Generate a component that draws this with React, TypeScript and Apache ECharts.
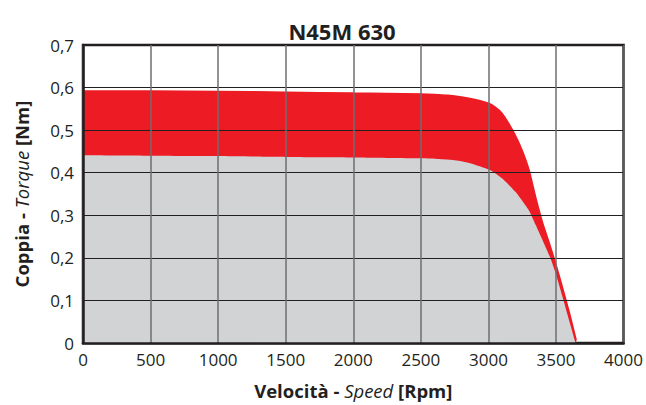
import React, { useEffect, useRef } from "react";
import * as echarts from "echarts";

const chartTitle = "N45M 630";
const xTicks = [0, 500, 1000, 1500, 2000, 2500, 3000, 3500, 4000];
const yTicks = [0, 0.1, 0.2, 0.3, 0.4, 0.5, 0.6, 0.7];

// Peak torque (red) curve: [rpm, Nm]
const peakRpm = [0, 500, 1000, 1500, 2000, 2500, 2600, 2700, 2800, 2900, 3000, 3050, 3100, 3150, 3200, 3250, 3300, 3350, 3400, 3450, 3500, 3550, 3600, 3650];
const peakTorque = [0.592, 0.592, 0.591, 0.589, 0.587, 0.585, 0.584, 0.582, 0.578, 0.572, 0.563, 0.554, 0.54, 0.516, 0.487, 0.452, 0.407, 0.342, 0.283, 0.235, 0.184, 0.128, 0.07, 0.006];

// Continuous torque (grey) curve: [rpm, Nm]
const contRpm = [0, 500, 1000, 1500, 2000, 2500, 2600, 2700, 2800, 2900, 3000, 3050, 3100, 3150, 3200, 3250, 3300, 3350, 3400, 3458, 3500, 3556, 3600, 3645];
const contTorque = [0.441, 0.44, 0.439, 0.437, 0.436, 0.434, 0.433, 0.431, 0.427, 0.419, 0.408, 0.399, 0.387, 0.372, 0.355, 0.334, 0.311, 0.277, 0.242, 0.2, 0.161, 0.1, 0.05, 0.0];

const FONT = "'Open Sans', 'Noto Sans', sans-serif";
const TXT = "#231F20";

export default function App() {
  const ref = useRef<HTMLDivElement>(null);
  useEffect(() => {
    document.body.style.margin = "0";
    if (!ref.current) return;
    const chart = echarts.init(ref.current, null, { renderer: "svg" });
    const peak = peakRpm.map((x, i) => [x, peakTorque[i]]);
    const cont = contRpm.map((x, i) => [x, contTorque[i]]);
    chart.setOption({
      animation: false,
      textStyle: { fontFamily: FONT, color: TXT },
      graphic: [
        {
          type: "text",
          x: 342,
          y: 30.5,
          style: {
            text: chartTitle,
            font: `bold 22px ${FONT}`,
            fill: TXT,
            textAlign: "center",
            textVerticalAlign: "middle",
          },
        },
      ],
      grid: {
        left: 83,
        right: 19,
        top: 45,
        bottom: 60,
        show: true,
        borderColor: TXT,
        borderWidth: 2.5,
        backgroundColor: "#fff",
      },
      xAxis: {
        type: "value",
        min: 0,
        max: 4000,
        interval: 500,
        z: 5,
        axisLine: { show: true, onZero: false, lineStyle: { color: TXT, width: 2.5 } },
        axisTick: { show: false },
        splitLine: { show: true, lineStyle: { color: "#6D6E71", width: 1.5 } },
        axisLabel: {
          fontFamily: FONT,
          fontSize: 17,
          color: TXT,
          margin: 8,
          formatter: (v: number) => String(v),
        },
        name: "{b|Velocità - }{i|Speed}{b| [Rpm]}",
        nameLocation: "middle",
        nameGap: 38,
        nameTextStyle: {
          rich: {
            b: { fontFamily: FONT, fontSize: 18.5, fontWeight: "bold", color: TXT },
            i: { fontFamily: FONT, fontSize: 18.5, fontStyle: "italic", color: TXT },
          },
        },
      },
      yAxis: {
        type: "value",
        min: 0,
        max: 0.7,
        interval: 0.1,
        z: 5,
        axisLine: { show: true, onZero: false, lineStyle: { color: TXT, width: 2.5 } },
        axisTick: { show: false },
        splitLine: { show: true, lineStyle: { color: TXT, width: 1.2 } },
        axisLabel: {
          fontFamily: FONT,
          fontSize: 17,
          color: TXT,
          margin: 9,
          formatter: (v: number) => (v === 0 ? "0" : v.toFixed(1).replace(".", ",")),
        },
        name: "{b|Coppia - }{i|Torque}{b| [Nm]}",
        nameLocation: "middle",
        nameRotate: 90,
        nameGap: 52,
        nameTextStyle: {
          rich: {
            b: { fontFamily: FONT, fontSize: 18.5, fontWeight: "bold", color: TXT },
            i: { fontFamily: FONT, fontSize: 18.5, fontStyle: "italic", color: TXT },
          },
        },
      },
      series: [
        {
          type: "line",
          data: peak,
          symbol: "none",
          smooth: 0.2,
          z: 2,
          lineStyle: { color: "#ED1C24", width: 1.5 },
          areaStyle: { color: "#ED1C24", opacity: 1 },
        },
        {
          type: "line",
          data: cont,
          symbol: "none",
          smooth: 0.2,
          z: 3,
          lineStyle: { color: "#D1D3D4", width: 0 },
          areaStyle: { color: "#D1D3D4", opacity: 1 },
        },
      ],
    });
    return () => chart.dispose();
  }, []);
  return <div ref={ref} style={{ width: 646, height: 405 }} />;
}
